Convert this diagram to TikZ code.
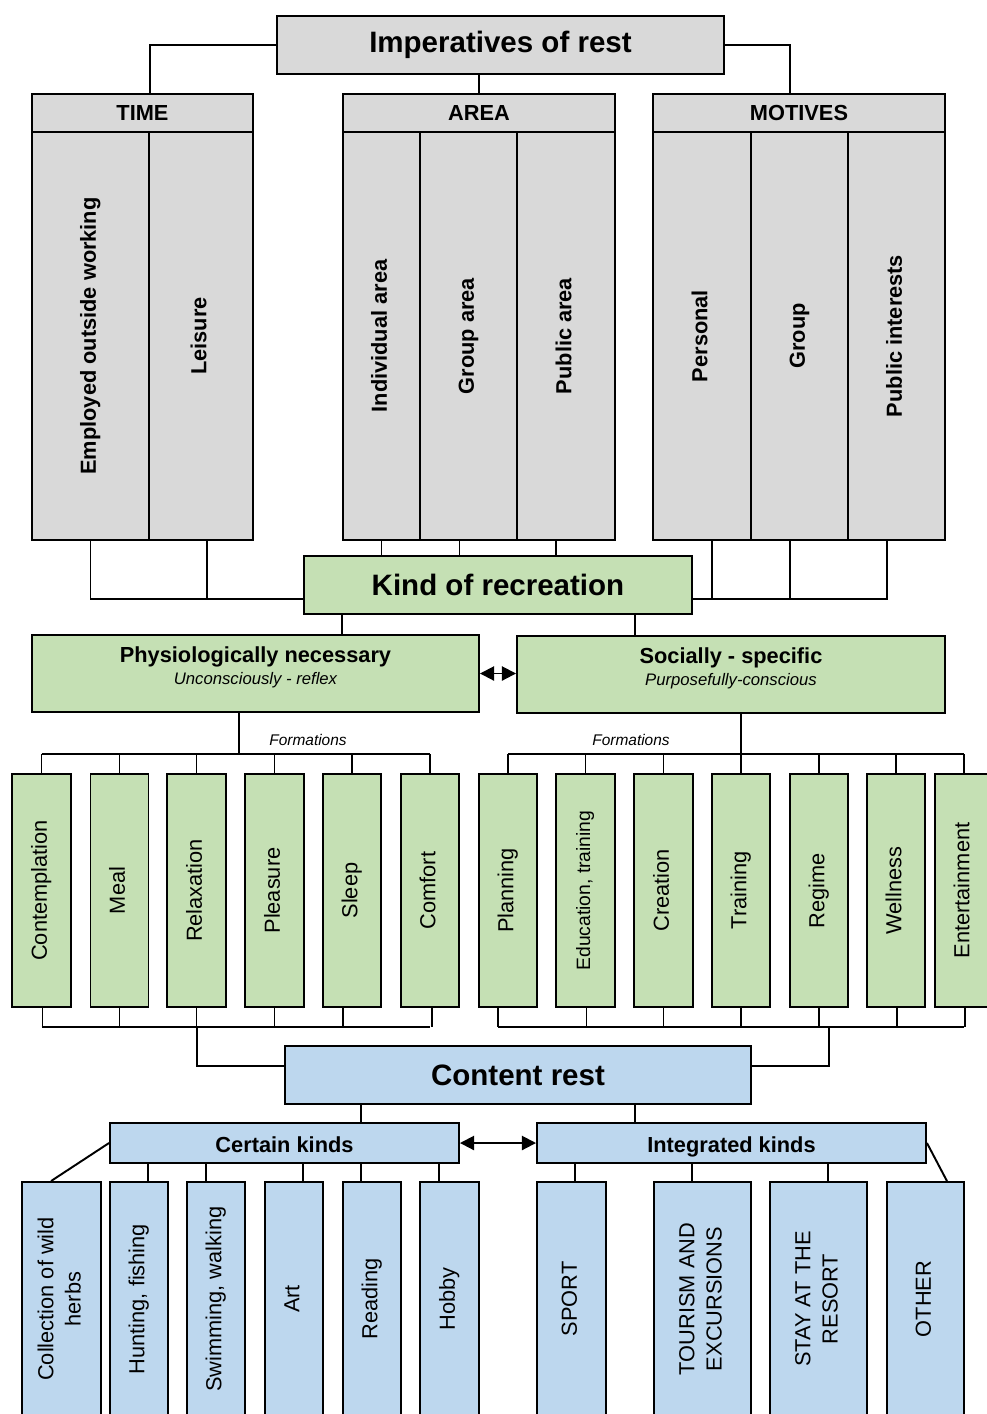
\documentclass[tikz,border=0pt]{standalone}
\usepackage{fontspec}
\setmainfont{Liberation Sans}
\usepackage{graphicx}
\usepackage{xcolor}
\usetikzlibrary{arrows.meta}
\definecolor{restgray}{RGB}{217,217,217}
\definecolor{restgreen}{RGB}{197,224,180}
\definecolor{restblue}{RGB}{189,215,238}
\newdimen\pxu \pxu=0.02cm
\newcommand{\titlefont}{\fontsize{16.8}{20}\selectfont\bfseries}
\newcommand{\headfont}{\fontsize{12.4}{15}\selectfont\bfseries}
\newcommand{\subfont}{\fontsize{9.5}{11}\selectfont\itshape}
\newcommand{\vtext}[1]{\rotatebox{90}{\begin{tabular}{@{}c@{}}#1\end{tabular}}}
\tikzset{
 cell/.style={
 rectangle,
 draw=black,
 line width=1.1pt,
 inner sep=0pt,
 align=center,
 font=\fontsize{12.4}{15.5}\selectfont
 },
 wh/.style 2 args={minimum width=#1\pxu, minimum height=#2\pxu},
 graycell/.style={cell, fill=restgray},
 headcell/.style={cell, fill=restgray, font=\headfont},
 panelcell/.style={cell, fill=restgray, font=\headfont},
 greencell/.style={cell, fill=restgreen},
 bluecell/.style={cell, fill=restblue},
 kindcell/.style={cell, fill=restblue, font=\headfont, text height=11pt, text depth=0pt},
 groupcell/.style={cell, fill=restgreen, font=\fontsize{9.5}{13}\selectfont, text depth=9pt},
 note/.style={inner sep=0pt, font=\fontsize{8.8}{10}\selectfont\itshape},
 link/.style={line width=1.1pt, draw=black},
 twoway/.style={{Triangle[length=8pt,width=8pt]}-{Triangle[length=8pt,width=8pt]}, line width=1.1pt}
}

\begin{document}
\begin{tikzpicture}[x=0.02cm, y=-0.02cm]
 \useasboundingbox (0,0) rectangle (987,1414);

 % imperatives
 \node[graycell, wh={447}{58}, font=\titlefont] (imp) at (500.5,45) {Imperatives of rest};

 \node[headcell, wh={221}{38}] (timeh) at (142.5,113) {TIME};
 \node[panelcell, wh={117}{408}] (emp) at (90.5,336) {\vtext{Employed outside working}};
 \node[panelcell, wh={104}{408}] (leis) at (201,336) {\vtext{Leisure}};

 \node[headcell, wh={272}{38}] (areah) at (479,113) {AREA};
 \node[panelcell, wh={77}{408}] (indiv) at (381.5,336) {\vtext{Individual area}};
 \node[panelcell, wh={97}{408}] (grpa) at (468.5,336) {\vtext{Group area}};
 \node[panelcell, wh={98}{408}] (puba) at (566,336) {\vtext{Public area}};

 \node[headcell, wh={292}{38}] (moth) at (799,113) {MOTIVES};
 \node[panelcell, wh={98}{408}] (pers) at (702,336) {\vtext{Personal}};
 \node[panelcell, wh={97}{408}] (grpm) at (799.5,336) {\vtext{Group}};
 \node[panelcell, wh={97}{408}] (pubi) at (896.5,336) {\vtext{Public interests}};

 % kind of recreation
 \node[greencell, wh={388}{58}, font=\titlefont] (kind) at (498,585) {Kind of recreation};
 \node[groupcell, wh={447}{77}] (phys) at (255.5,673.5) {{\headfont Physiologically necessary}\\{\subfont Unconsciously - reflex}};
 \node[groupcell, wh={428}{77}] (soc) at (731,674.5) {{\headfont Socially - specific}\\{\subfont Purposefully-conscious}};

 \node[note] (formL) at (308,740) {Formations};
 \node[note] (formR) at (631,740) {Formations};

 \node[greencell, wh={59}{233}] (cont) at (41.5,890.5) {\vtext{Contemplation}};
 \node[greencell, wh={58}{233}] (meal) at (119.5,890.5) {\vtext{Meal}};
 \node[greencell, wh={59}{233}] (relax) at (196.5,890.5) {\vtext{Relaxation}};
 \node[greencell, wh={59}{233}] (pleas) at (274.5,890.5) {\vtext{Pleasure}};
 \node[greencell, wh={58}{233}] (sleep) at (352,890.5) {\vtext{Sleep}};
 \node[greencell, wh={58}{233}] (comf) at (430,890.5) {\vtext{Comfort}};
 \node[greencell, wh={58}{233}] (plan) at (508,890.5) {\vtext{Planning}};
 \node[greencell, wh={59}{233}, font=\fontsize{11}{13}\selectfont] (edu) at (585.5,890.5) {\vtext{Education, training}};
 \node[greencell, wh={59}{233}] (crea) at (663.5,890.5) {\vtext{Creation}};
 \node[greencell, wh={58}{233}] (train) at (741,890.5) {\vtext{Training}};
 \node[greencell, wh={58}{233}] (regi) at (819,890.5) {\vtext{Regime}};
 \node[greencell, wh={58}{233}] (well) at (896,890.5) {\vtext{Wellness}};
 \node[greencell, wh={58}{233}] (ent) at (964,890.5) {\vtext{Entertainment}};

 % content rest
 \node[bluecell, wh={466}{58}, font=\titlefont] (cnt) at (518,1075) {Content rest};
 \node[kindcell, wh={349}{40}] (cert) at (284.5,1143) {Certain kinds};
 \node[kindcell, wh={389}{40}] (integ) at (731.5,1143) {Integrated kinds};

 \node[bluecell, wh={79}{234}] (coll) at (61.5,1299) {\vtext{Collection of wild\\herbs}};
 \node[bluecell, wh={58}{234}] (hunt) at (139,1299) {\vtext{Hunting, fishing}};
 \node[bluecell, wh={58}{234}] (swim) at (216,1299) {\vtext{Swimming, walking}};
 \node[bluecell, wh={58}{234}] (art) at (294,1299) {\vtext{Art}};
 \node[bluecell, wh={58}{234}] (read) at (372,1299) {\vtext{Reading}};
 \node[bluecell, wh={59}{234}] (hobby) at (449.5,1299) {\vtext{Hobby}};
 \node[bluecell, wh={69}{234}] (sport) at (571.5,1299) {\vtext{SPORT}};
 \node[bluecell, wh={97}{234}] (tour) at (702.5,1299) {\vtext{TOURISM AND\\EXCURSIONS}};
 \node[bluecell, wh={97}{234}] (stay) at (818.5,1299) {\vtext{STAY AT THE\\RESORT}};
 \node[bluecell, wh={77}{234}] (other) at (925.5,1299) {\vtext{OTHER}};

 % upper links
 \draw[link] (imp.west) -| (timeh.north -| emp.east);
 \draw[link] (imp.south -| areah.north) -- (areah.north);
 \draw[link] (imp.east) -| ([xshift=-9\pxu]moth.north);

 \coordinate (tbus) at ([yshift=-14\pxu]kind.west);
 \coordinate (mbus) at ([yshift=-14\pxu]kind.east);
 \draw[link] (emp.south) |- (tbus);
 \draw[link] ([xshift=6\pxu]leis.south) -- ([xshift=6\pxu]leis.south |- tbus);
 \foreach \n/\dx in {indiv/0, grpa/-9, puba/-10}
 \draw[link] ([xshift=\dx\pxu]\n.south) -- ([xshift=\dx\pxu]\n.south |- kind.north);
 \draw[link] ([xshift=-9.5\pxu]pubi.south) |- (mbus);
 \foreach \n/\dx in {pers/10, grpm/-9.5}
 \draw[link] ([xshift=\dx\pxu]\n.south) -- ([xshift=\dx\pxu]\n.south |- mbus);

 \draw[link] ([xshift=39\pxu]kind.south west) -- ([xshift=39\pxu]kind.south west |- phys.north);
 \draw[link] ([xshift=-58\pxu]kind.south east) -- ([xshift=-58\pxu]kind.south east |- soc.north);
 \draw[twoway] (phys.east) -- (phys.east -| soc.west);

 % formations
 \coordinate (pbus) at (239,754);
 \coordinate (sbus) at (741,754);
 \draw[link] (phys.south -| pbus) -- (pbus);
 \draw[link] (cont.north |- pbus) -- (comf.north |- pbus);
 \foreach \n in {cont,meal,relax,pleas,sleep,comf}
 \draw[link] (\n.north) -- (\n.north |- pbus);
 \draw[link] (soc.south -| sbus) -- (sbus);
 \draw[link] (plan.north |- sbus) -- (ent.north |- sbus);
 \foreach \n in {plan,edu,crea,train,regi,well,ent}
 \draw[link] (\n.north) -- (\n.north |- sbus);

 \coordinate (lbus) at (197,1027);
 \coordinate (rbus) at (829,1027);
 \draw[link] (cont.south |- lbus) -- (comf.south |- lbus);
 \foreach \n/\dx in {cont/1, meal/0, relax/0, pleas/0, sleep/-9, comf/2}
 \draw[link] ([xshift=\dx\pxu]\n.south) -- ([xshift=\dx\pxu]\n.south |- lbus);
 \draw[link] (lbus) |- ([yshift=9\pxu]cnt.west);
 \draw[link] ([xshift=-10\pxu]plan.south |- rbus) -- (ent.south |- rbus);
 \foreach \n/\dx in {plan/-10, edu/1, crea/0, train/0, regi/0, well/1, ent/1}
 \draw[link] ([xshift=\dx\pxu]\n.south) -- ([xshift=\dx\pxu]\n.south |- rbus);
 \draw[link] (rbus) |- ([yshift=9\pxu]cnt.east);

 % content rest links
 \draw[link] ([xshift=77\pxu]cnt.south west) -- ([xshift=77\pxu]cnt.south west |- cert.north);
 \draw[link] ([xshift=-117\pxu]cnt.south east) -- ([xshift=-117\pxu]cnt.south east |- integ.north);
 \draw[twoway] (cert.east) -- (integ.west);

 \draw[link] (cert.west) -- ([xshift=30\pxu]coll.north west);
 \foreach \n/\dx in {hunt/39, swim/97, art/194, read/252, hobby/330}
 \draw[link] ([xshift=\dx\pxu]cert.south west) -- ([xshift=\dx\pxu]cert.south west |- \n.north);
 \foreach \n/\dx in {sport/39, tour/156, stay/292}
 \draw[link] ([xshift=\dx\pxu]integ.south west) -- ([xshift=\dx\pxu]integ.south west |- \n.north);
 \draw[link] (integ.east) -- ([xshift=-18\pxu]other.north east);
\end{tikzpicture}
\end{document}
